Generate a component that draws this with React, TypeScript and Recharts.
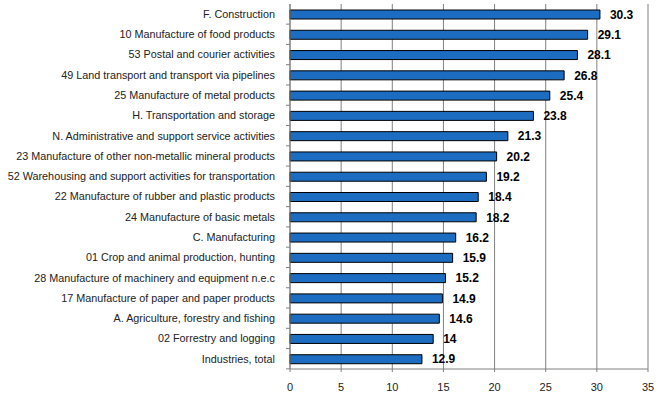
import React from 'react';
import { BarChart, Bar, XAxis, YAxis, CartesianGrid, LabelList } from 'recharts';

const categories = [
  'F. Construction',
  '10 Manufacture of food products',
  '53 Postal and courier activities',
  '49 Land transport and transport via pipelines',
  '25 Manufacture of metal products',
  'H. Transportation and storage',
  'N. Administrative and support service activities',
  '23 Manufacture of other non-metallic mineral products',
  '52 Warehousing and support activities for transportation',
  '22 Manufacture of rubber and plastic products',
  '24 Manufacture of basic metals',
  'C. Manufacturing',
  '01 Crop and animal production, hunting',
  '28 Manufacture of machinery and equipment n.e.c',
  '17 Manufacture of paper and paper products',
  'A. Agriculture, forestry and fishing',
  '02 Forrestry and logging',
  'Industries, total',
];

const values = [30.3, 29.1, 28.1, 26.8, 25.4, 23.8, 21.3, 20.2, 19.2, 18.4, 18.2, 16.2, 15.9, 15.2, 14.9, 14.6, 14, 12.9];

const xTicks = [0, 5, 10, 15, 20, 25, 30, 35];

const data = categories.map((name, i) => ({ name, value: values[i] }));

const font = '"Liberation Sans", Arial, sans-serif';

const CategoryTick = (props: any) => {
  const { x, y, payload } = props;
  return (
    <g>
      <line x1={290} x2={286} y1={y + 10} y2={y + 10} stroke="#808080" />
      <text
        x={x}
        y={y}
        dy="0.35em"
        textAnchor="end"
        fontFamily={font}
        fontSize={10.8}
        fill="#222"
      >
        {payload.value}
      </text>
    </g>
  );
};

export default function App() {
  return (
    <div style={{ position: 'absolute', left: 0, top: 0, background: '#fff' }}>
      <BarChart
        width={665}
        height={418}
        data={data}
        layout="vertical"
        margin={{ top: 4, right: 17, bottom: 0, left: 0 }}
        barSize={9}
      >
        <CartesianGrid horizontal={false} stroke="#808080" strokeWidth={1} />
        <XAxis
          type="number"
          domain={[0, 35]}
          ticks={xTicks}
          height={49}
          tickSize={3}
          tickMargin={11}
          axisLine={{ stroke: '#808080' }}
          tickLine={{ stroke: '#808080' }}
          tick={{ fontFamily: font, fontSize: 11, fill: '#222' }}
          interval={0}
        />
        <YAxis
          type="category"
          dataKey="name"
          width={290}
          tickLine={false}
          tickMargin={9}
          axisLine={{ stroke: '#808080' }}
          tick={<CategoryTick />}
          interval={0}
        />
        <Bar dataKey="value" fill="#1c6cc2" stroke="#000" strokeWidth={1} isAnimationActive={false}>
          <LabelList
            dataKey="value"
            position="right"
            offset={10}
            style={{ fontFamily: font, fontSize: 12, fontWeight: 'bold', fill: '#000' }}
          />
        </Bar>
      </BarChart>
    </div>
  );
}
